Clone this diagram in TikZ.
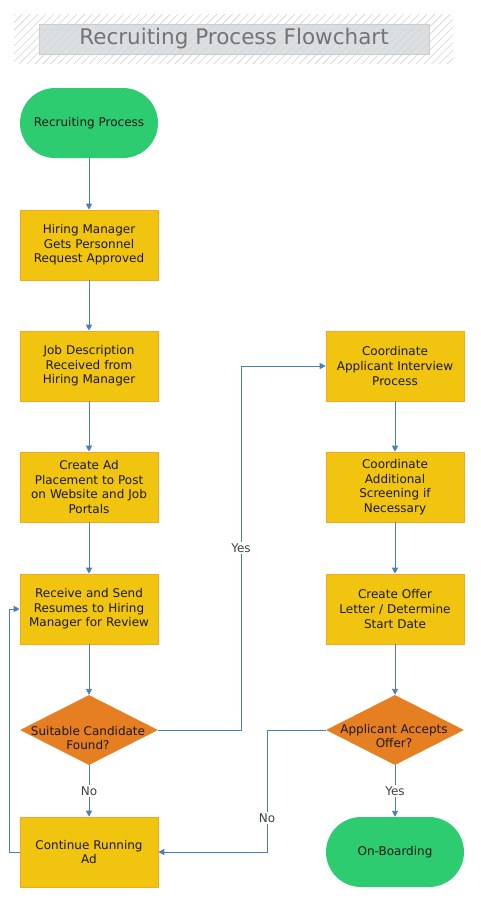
\documentclass[tikz,border=0pt]{standalone}
\usepackage{fontspec}
\setmainfont{DejaVu Sans}
\usetikzlibrary{shapes.geometric,patterns.meta,arrows.meta}
\definecolor{boxfill}{HTML}{F1C40F}
\definecolor{boxline}{HTML}{F5A623}
\definecolor{decfill}{HTML}{E67E22}
\definecolor{termfill}{HTML}{2ECC71}
\definecolor{arrowc}{HTML}{4A7EBB}
\definecolor{titlegrey}{HTML}{D5D9DC}
\tikzset{
  every node/.style={font=\fontsize{12}{14.6}\selectfont, text=black!90},
  procbox/.style={draw=boxline, fill=boxfill, minimum width=138pt, minimum height=70pt, text width=132pt, align=center, inner sep=0pt, line width=0.6pt},
  termbox/.style={fill=termfill, rounded corners=35pt, minimum width=138pt, minimum height=70pt, align=center, inner sep=0pt},
  decbox/.style={diamond, aspect=1.97, fill=decfill, minimum width=138pt, minimum height=70pt, inner sep=0pt, align=center},
  flow/.style={draw=arrowc, line width=0.9pt, -{Triangle[length=6pt,width=6pt]}},
  lbl/.style={fill=white, inner sep=1.5pt, font=\fontsize{12}{14}\selectfont, text=black!75}
}
\begin{document}
\begin{tikzpicture}[x=1pt,y=-1pt]
\useasboundingbox (0,0) rectangle (480,900);
% title
\fill[pattern={Lines[angle=45,distance=5.5pt,line width=0.6pt]}, pattern color=black!18] (14,14) rectangle (453,63);
\node[draw=black!20, fill=titlegrey, fill opacity=0.85, text opacity=1, minimum width=390pt, minimum height=30pt, inner sep=0pt, text=black!55, font=\fontsize{21.5}{24}\selectfont] (title) at (234,39) {Recruiting Process Flowchart};
% left column
\node[termbox] (start) at (89,123) {Recruiting Process};
\node[procbox] (b1) at (89,245) {Hiring Manager\\Gets Personnel\\Request Approved};
\node[procbox] (b2) at (89,366) {Job Description\\Received from\\Hiring Manager};
\node[procbox] (b3) at (89,487) {Create Ad\\Placement to Post\\on Website and Job\\Portals};
\node[procbox] (b4) at (89,609) {Receive and Send\\Resumes to Hiring\\Manager for Review};
\node[decbox] (d1) at (89,730) {};
\node[align=center] (d1t) at (88,738) {Suitable Candidate\\Found?};
\node[procbox] (b5) at (89,852) {Continue Running\\Ad};
% right column
\node[procbox] (r1) at (395,366) {Coordinate\\Applicant Interview\\Process};
\node[procbox] (r2) at (395,487) {Coordinate\\Additional\\Screening if\\Necessary};
\node[procbox] (r3) at (395,609) {Create Offer\\Letter / Determine\\Start Date};
\node[decbox] (d2) at (395,730) {};
\node[align=center] (d2t) at (394,736) {Applicant Accepts\\Offer?};
\node[termbox] (end) at (395,852) {On-Boarding};
% connectors
\coordinate (c1) at (241,730);
\coordinate (c2) at (241,366);
\coordinate (c3) at (9,852);
\coordinate (c4) at (9,609);
\coordinate (c5) at (267,730);
\coordinate (c6) at (267,852);
\draw[flow] (start) -- (b1);
\draw[flow] (b1) -- (b2);
\draw[flow] (b2) -- (b3);
\draw[flow] (b3) -- (b4);
\draw[flow] (b4) -- (d1);
\draw[flow] (d1) -- node[lbl, pos=0.5] {No} (b5);
\draw[flow] (d1.east) -- (c1) -- node[lbl, pos=0.5] {Yes} (c2) -- (r1.west);
\draw[flow] (b5.west) -- (c3) -- (c4) -- (b4.west);
\draw[flow] (r1) -- (r2);
\draw[flow] (r2) -- (r3);
\draw[flow] (r3) -- (d2);
\draw[flow] (d2) -- node[lbl, pos=0.5] {Yes} (end);
\draw[flow] (d2.west) -- (c5) -- node[lbl, pos=0.72] {No} (c6) -- (b5.east);
\end{tikzpicture}
\end{document}
